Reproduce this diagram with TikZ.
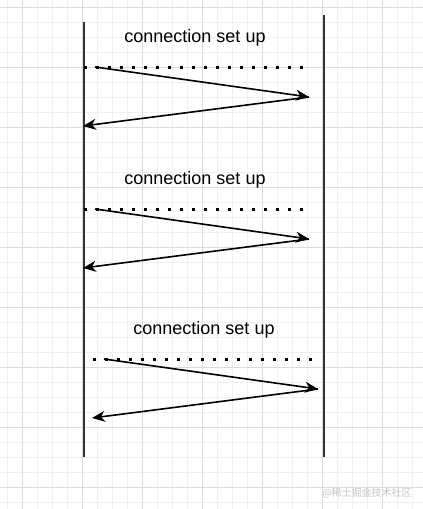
\documentclass[tikz,border=0pt]{standalone}
\usepackage{fontspec}
\setmainfont{Liberation Sans}
\newfontfamily\cjkfont{Noto Sans CJK SC}
\usetikzlibrary{arrows.meta}

\definecolor{gridminor}{RGB}{240,240,240}
\definecolor{gridmajor}{RGB}{220,220,220}
\definecolor{lifegray}{RGB}{51,51,51}

\begin{document}
\begin{tikzpicture}[x=1pt, y=-1pt,
    lifeline/.style={line width=2pt, draw=lifegray},
    dotrow/.style={line width=3pt, dash pattern=on 3pt off 9pt},
    msg/.style={line width=1.6pt, -{Stealth[length=13pt,width=11pt,inset=4pt]}},
    caption/.style={font=\fontsize{18}{21}\selectfont, inner sep=0pt}]

    \def\PicW{423}
    \def\PicH{509}

    % Paper and grid
    \fill[white] (0,0) rectangle (\PicW,\PicH);
    \useasboundingbox (0,0) rectangle (\PicW,\PicH);
    \foreach \x in {7,22,...,422} \draw[gridminor, line width=0.8pt] (\x,0) -- (\x,\PicH);
    \foreach \y in {7,22,...,508} \draw[gridminor, line width=0.8pt] (0,\y) -- (\PicW,\y);
    \foreach \x in {22,82,...,422} \draw[gridmajor, line width=0.8pt] (\x,0) -- (\x,\PicH);
    \foreach \y in {7,67,...,508} \draw[gridmajor, line width=0.8pt] (0,\y) -- (\PicW,\y);

    % Lifelines
    \coordinate (clientTop) at (84,22);
    \coordinate (clientBot) at (84,457);
    \coordinate (serverTop) at (324,15);
    \coordinate (serverBot) at (324,457);
    \draw[lifeline] (clientTop) -- (clientBot);
    \draw[lifeline] (serverTop) -- (serverBot);

    % Rounds: index/dotted row y/horizontal shift
    \foreach \n/\y/\dx in {1/67/0, 2/209/0, 3/359/9} {
      \node[caption] (label\n) at (195+\dx,\y-29) {connection set up};
      \coordinate (dotL\n) at (84+\dx,\y);
      \coordinate (dotR\n) at (305+\dx,\y);
      \coordinate (send\n) at (95+\dx,\y);
      \coordinate (recv\n) at (309+\dx,\y+30);
      \coordinate (back\n) at (83+\dx,\y+59);
      \draw[dotrow] (dotL\n) -- (dotR\n);
      \draw[msg] (send\n) -- (recv\n);
      \draw[msg] (recv\n) -- (back\n);
    }

    % Watermark
    \node[text=gray!45, font=\cjkfont\fontsize{10}{12}\selectfont, inner sep=0pt]
      (mark) at (367,493) {@稀土掘金技术社区};
\end{tikzpicture}
\end{document}
